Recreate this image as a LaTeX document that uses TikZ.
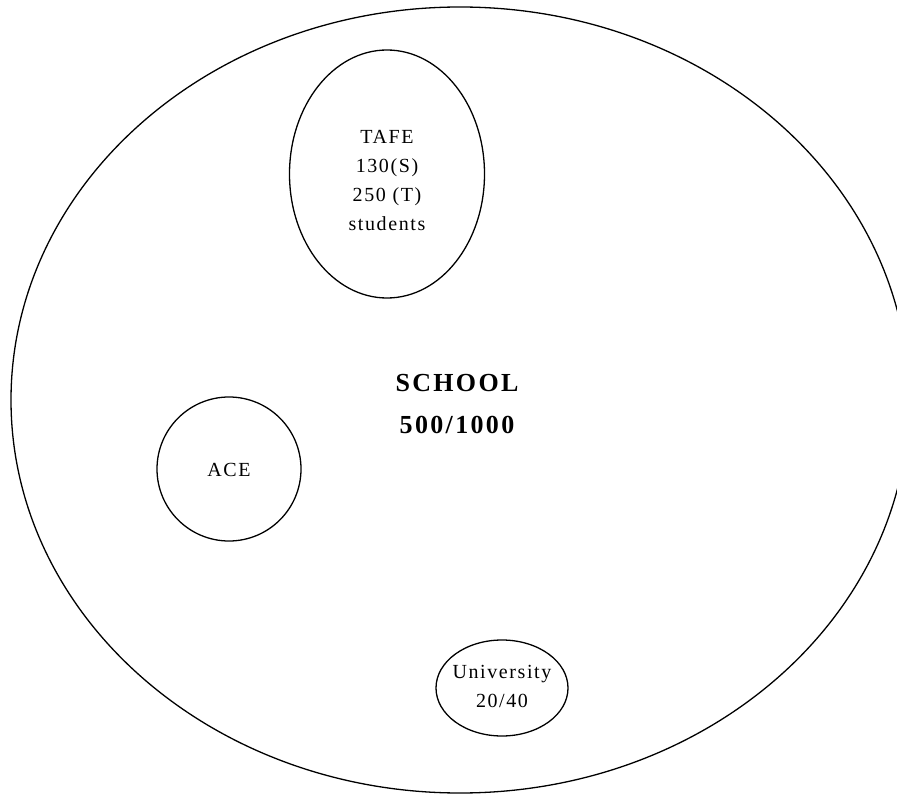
\documentclass[tikz,border=0pt]{standalone}
\usepackage{fontspec}
\setmainfont{Liberation Serif}
\usetikzlibrary{shapes.geometric}
\tikzset{
  region/.style={draw, ellipse, line width=1.3pt, inner sep=0pt},
  label/.style={align=center, font=\fontsize{20}{29}\selectfont\addfontfeatures{LetterSpace=8}},
  title/.style={align=center, font=\fontsize{26}{42}\selectfont\bfseries\addfontfeatures{LetterSpace=9}}
}
\begin{document}
\begin{tikzpicture}[x=1pt, y=-1pt]
  \useasboundingbox (0,0) rectangle (897,794);
  % outer school region
  \node[region, minimum width=898pt, minimum height=786pt] (school) at (460,400) {};
  \node[title] (schooltext) at (457,404) {SCHOOL\\500/1000};
  % partner institutions
  \node[region, minimum width=195pt, minimum height=248pt] (tafe) at (387,174) {};
  \node[label] (tafetext) at (387,180) {TAFE\\130(S)\\250 (T)\\students};
  \node[region, circle, minimum size=144pt] (ace) at (229,469) {};
  \node[label] (acetext) at (229,470) {ACE};
  \node[region, minimum width=132pt, minimum height=96pt] (uni) at (502,688) {};
  \node[label] (unitext) at (502,686) {University\\20/40};
\end{tikzpicture}
\end{document}
